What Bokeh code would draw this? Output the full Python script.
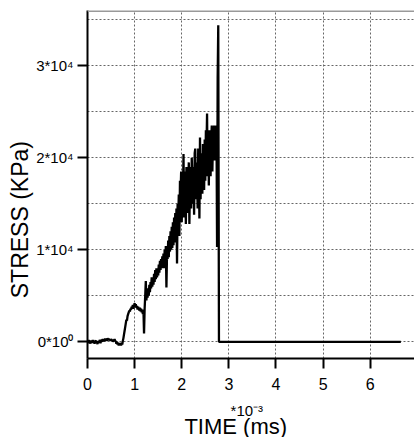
from bokeh.plotting import figure
from bokeh.models import FixedTicker, Span, Range1d, LinearAxis
from bokeh.embed import file_html
from bokeh.resources import INLINE

# sampling interval of the recorded trace (ms)
DT = 0.0125
# stress samples (kPa), one every DT ms starting at t = 0
STRESS = [
    100, -150, 200, -100, 50, -200, 150, 0,
    -100, 200, -50, 100, -200, 50, 150, -100,
    0, -250, 100, -100, 50, 200, -150, 100,
    200, 0, 300, 100, 250, 50, 350, 150,
    300, 100, 400, 200, 350, 150, 250, 100,
    300, 150, 250, 0, 200, 100, 300, 50,
    100, -200, 0, -300, -100, -400, -150, -350,
    -200, -400, -100, -300, 100, 400, 800, 1200,
    1600, 2000, 2400, 2300, 2800, 3000, 3200, 3400,
    3300, 3600, 3500, 3800, 3700, 4000, 3600, 3900,
    4200, 3800, 4100, 3700, 3900, 3500, 3800, 3600,
    3400, 3700, 3300, 3600, 3200, 3500, 3000, 3400,
    900, 3600, 5000, 6600, 4500, 5500, 4800, 5800,
    5000, 6200, 5400, 6500, 5800, 7000, 6000, 6800,
    6200, 7400, 6500, 7800, 6800, 8000, 7000, 7800,
    7200, 8400, 7500, 8800, 7800, 9000, 8000, 9300,
    8200, 9600, 8000, 10000, 8600, 10400, 5900, 9500,
    9000, 11000, 9200, 11500, 9800, 12000, 10000, 12500,
    10200, 13000, 10500, 13500, 11000, 14000, 10800, 14500,
    8500, 15000, 13000, 16000, 11500, 17500, 16000, 18500,
    13000, 17000, 15500, 20400, 13500, 18500, 17000, 12800,
    19000, 14000, 18000, 16500, 19500, 12800, 17500, 19000,
    14500, 20000, 17500, 15000, 19000, 13800, 20500, 21000,
    15500, 19500, 18000, 14500, 21000, 20000, 13400, 22200,
    15500, 20500, 19000, 16100, 21500, 20000, 16500, 22000,
    17500, 23000, 21000, 24800, 18000, 22500, 17000, 23000,
    20500, 18000, 22000, 23500, 18500, 22000, 20000, 23500,
    19700, 23000, 21000, 23500, 10300, 28700, 34400,
]
# after the failure the gauge reads zero
TAIL_TIME = [2.79, 6.65]
TAIL_STRESS = [0, 0]

X_TICKS = [0, 1, 2, 3, 4, 5, 6, 7]
Y_TICKS = [0, 10000, 20000, 30000]
Y_MINOR = [5000, 15000, 25000, 35000]
Y_TICK_LABELS = {0: "0*10\u2070", 10000: "1*10\u2074", 20000: "2*10\u2074", 30000: "3*10\u2074"}
X_LABEL = "TIME (ms)"
X_SCALE = "*10\u207b\u00b3"
Y_LABEL = "STRESS (KPa)"

t = [i * DT for i in range(len(STRESS))] + TAIL_TIME
s = STRESS + TAIL_STRESS

X0, X1 = 0.0, 6.94
Y0, Y1 = -1815, 36010
NBSP = "\u00a0"

p = figure(frame_width=327, frame_height=348, output_backend="svg", toolbar_location=None,
           x_range=Range1d(X0, X1), y_range=Range1d(Y0, Y1),
           min_border_left=87, min_border_right=0, min_border_top=10, min_border_bottom=79)
p.outline_line_color = None
p.background_fill_color = "white"
p.border_fill_color = "white"

FONT = "Liberation Sans"

p.xaxis.ticker = FixedTicker(ticks=X_TICKS)
p.yaxis.ticker = FixedTicker(ticks=Y_TICKS, minor_ticks=Y_MINOR)
p.yaxis.major_label_overrides = Y_TICK_LABELS

for ax in (p.xaxis[0], p.yaxis[0]):
    ax.axis_line_color = "black"
    ax.axis_line_width = 2
    ax.major_tick_line_color = "black"
    ax.major_tick_line_width = 2
    ax.major_tick_out = 10
    ax.major_tick_in = 0
    ax.minor_tick_line_color = None
    ax.major_label_text_font = FONT
    ax.major_label_text_color = "black"
    ax.axis_label_text_font = FONT
    ax.axis_label_text_font_style = "normal"
    ax.axis_label_text_color = "black"

p.xaxis.major_label_standoff = 9
p.yaxis.major_label_standoff = 4
p.xaxis.major_label_text_font_size = "16px"
p.yaxis.major_label_text_font_size = "15px"

# y title overlaps the tick labels and sits low, as in the original
p.yaxis.axis_label = Y_LABEL + NBSP * 11
p.yaxis.axis_label_text_font_size = "23px"
p.yaxis.axis_label_standoff = 0

# exponent of the time axis
p.xaxis.axis_label = X_SCALE + NBSP * 2
p.xaxis.axis_label_text_font_size = "15px"
p.xaxis.axis_label_standoff = 9

# a bare second bottom axis carries the time title, pulled up under the exponent
title_axis = LinearAxis(ticker=FixedTicker(ticks=[]), axis_line_color=None,
                        major_tick_line_color=None, minor_tick_line_color=None,
                        major_tick_out=0, major_tick_in=0, minor_tick_out=0,
                        major_label_text_font_size="0px",
                        axis_label=X_LABEL + NBSP * 5, axis_label_text_font=FONT,
                        axis_label_text_font_size="22px", axis_label_text_font_style="normal",
                        axis_label_text_color="black", axis_label_standoff=-8)
p.add_layout(title_axis, "below")

for g in (p.xgrid[0], p.ygrid[0]):
    g.grid_line_color = "#666666"
    g.grid_line_dash = "2 2"
    g.grid_line_width = 1
p.ygrid.minor_grid_line_color = "#666666"
p.ygrid.minor_grid_line_dash = "2 2"
p.ygrid.minor_grid_line_width = 1

# top border
p.add_layout(Span(location=Y1 - 60, dimension="width", line_color="#999999", line_width=2))

p.line(t, s, line_color="black", line_width=2.3)

open("out.html", "w").write(file_html(p, INLINE))
